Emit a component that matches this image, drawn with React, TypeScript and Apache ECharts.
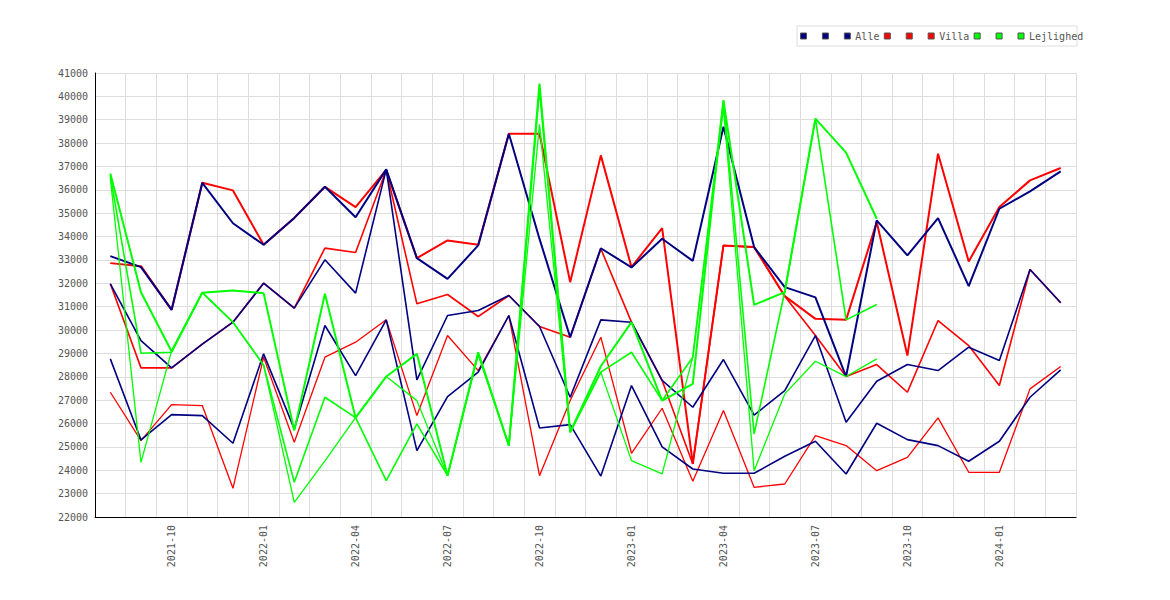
import React, { useEffect, useRef } from "react";
import * as echarts from "echarts";

const months = [
  "2021-08", "2021-09", "2021-10", "2021-11", "2021-12", "2022-01", "2022-02", "2022-03",
  "2022-04", "2022-05", "2022-06", "2022-07", "2022-08", "2022-09", "2022-10", "2022-11",
  "2022-12", "2023-01", "2023-02", "2023-03", "2023-04", "2023-05", "2023-06", "2023-07",
  "2023-08", "2023-09", "2023-10", "2023-11", "2023-12", "2024-01", "2024-02", "2024-03",
];

const alle1 = [33163, 32692, 30865, 36300, 34570, 33650, 34800, 36130, 34830, 36876, 33078, 32193, 33621, 38403, 33900, 29694,
  33500, 32680, 33906, 32960, 38700, 33549, 31836, 31400, 28010, 34692, 33193, 34792, 31879, 35191, 35934, 36790];
const alle2 = [31978, 29551, 28381, 29400, 30337, 32007, 30936, 33006, 31579, 36876, 27867, 30622, 30837, 31479, 30150, 27125,
  30437, 30337, 27850, 26697, 28738, 26360, 27410, 29766, 26054, 27810, 28524, 28266, 29266, 28695, 32593, 31166];
const alle3 = [28766, 25297, 26382, 26340, 25155, 28981, 25769, 30194, 28053, 30437, 24841, 27153, 28195, 30622, 25811, 25954,
  23750, 27625, 25000, 24055, 23870, 23870, 24600, 25240, 23841, 26011, 25312, 25055, 24384, 25240, 27125, 28295];

const villa1 = [32864, 32735, 30865, 36300, 35976, 33650, 34800, 36130, 35260, 36850, 33078, 33835, 33650, 38403, 38403, 32050,
  37475, 32693, 34364, 24270, 33621, 33549, 31450, 30479, 30437, 34620, 28909, 37547, 32936, 35263, 36405, 36933];
const villa2 = [31978, 28381, 28381, 29400, 30337, 32007, 30937, 33507, 33320, 36850, 31122, 31522, 30580, 31479, 30150, 29694,
  33478, 30337, 27839, 24270, 33621, 33549, 31450, 29766, 28010, 28524, 27339, 30408, 29337, 27624, 32593, 31166];
const villa3 = [27339, 25269, 26810, 26768, 23228, 28838, 25198, 28838, 29481, 30437, 26339, 29766, 28266, 30622, 23770, 26982,
  29695, 24727, 26654, 23527, 26554, 23270, 23413, 25483, 25055, 23984, 24555, 26239, 23913, 23913, 27482, 28438];

const lejl1 = [36700, 31621, 29080, 31600, 31693, 31579, 25697, 31550, 26250, 28010, 28981, 23770, 29050, 25055, 40545, 25626,
  28450, 30337, 26983, 27696, 39831, 31080, 31622, 39046, 37590, 34763, null, null, null, null, null, null];
const lejl2 = [36600, 29009, 29052, 31600, 30337, 28500, 23485, 27125, 26250, 23556, 25983, 23770, 28950, 25055, 40300, 25626,
  28200, 29052, 26983, 28838, 39831, 25554, 31650, 39046, 30437, 31093, null, null, null, null, null, null];
const lejl3 = [36500, 24340, 29120, 31600, 30337, 28500, 22628, 24400, 26250, 28010, 26980, 23770, 29000, 25055, 38800, 25626,
  28200, 24413, 23842, 28838, 39500, 23984, 27268, 28666, 28010, 28766, null, null, null, null, null, null];

const NAVY = "#000080";
const RED = "#ff0000";
const GREEN = "#00ff00";
const FONT = "DejaVu Sans Mono";

const mk = (name: string, data: (number | null)[], color: string, width: number) => ({
  name,
  type: "line",
  data,
  symbol: "none",
  showSymbol: false,
  connectNulls: false,
  color,
  itemStyle: { color },
  lineStyle: { color, width },
});

export default function App() {
  const ref = useRef<HTMLDivElement>(null);
  useEffect(() => {
    if (!ref.current) return;
    const chart = echarts.init(ref.current, null, { renderer: "svg" });
    const seriesList = [
      mk("Villa_1", villa1, RED, 2),
      mk("Villa_2", villa2, RED, 1.6),
      mk("Villa", villa3, RED, 1.3),
      mk("Alle_1", alle1, NAVY, 2),
      mk("Alle_2", alle2, NAVY, 1.6),
      mk("Alle", alle3, NAVY, 1.6),
      mk("Lejlighed_1", lejl1, GREEN, 2),
      mk("Lejlighed_2", lejl2, GREEN, 1.6),
      mk("Lejlighed", lejl3, GREEN, 1.3),
    ];
    chart.setOption({
      animation: false,
      backgroundColor: "#ffffff",
      textStyle: { fontFamily: FONT },
      graphic: [
        {
          type: "rect",
          shape: { x: 797, y: 26, width: 280, height: 20 },
          style: { fill: "none", stroke: "#dddddd", lineWidth: 1 },
          z: 0,
        },
      ],
      legend: {
        left: 800,
        top: 31,
        padding: 0,
        itemWidth: 6,
        itemHeight: 6,
        itemGap: 4.4,
        icon: "rect",
        itemStyle: { borderColor: "#555555", borderWidth: 1 },
        data: ["Alle_1", "Alle_2", "Alle", "Villa_1", "Villa_2", "Villa", "Lejlighed_1", "Lejlighed_2", "Lejlighed"],
        formatter: (name: string) => (name.indexOf("_") >= 0 ? " " : name),
        textStyle: { fontFamily: FONT, fontSize: 10, color: "#555555", padding: 0 },
      },
      grid: { left: 95, right: 94, top: 73, bottom: 83, containLabel: false },
      xAxis: {
        type: "category",
        data: months,
        boundaryGap: true,
        axisLine: { show: true, lineStyle: { color: "#000000", width: 1 } },
        axisTick: { show: false, interval: 0 },
        splitLine: { show: true, interval: 0, lineStyle: { color: "#dddddd", width: 1 } },
        axisLabel: {
          interval: (index: number) => index % 3 === 2,
          rotate: 90,
          margin: 8,
          fontFamily: FONT,
          fontSize: 10,
          color: "#555555",
        },
      },
      yAxis: {
        type: "value",
        min: 22000,
        max: 41000,
        interval: 1000,
        axisLine: { show: true, lineStyle: { color: "#000000", width: 1 } },
        axisTick: { show: false },
        splitLine: { show: true, lineStyle: { color: "#dddddd", width: 1 } },
        axisLabel: {
          margin: 7,
          fontFamily: FONT,
          fontSize: 10,
          color: "#555555",
          formatter: (v: number) => String(v),
        },
      },
      series: seriesList,
    });
    return () => chart.dispose();
  }, []);
  return (
    <div
      ref={ref}
      style={{ position: "absolute", left: 0, top: 0, width: 1170, height: 600, background: "#fff" }}
    />
  );
}
